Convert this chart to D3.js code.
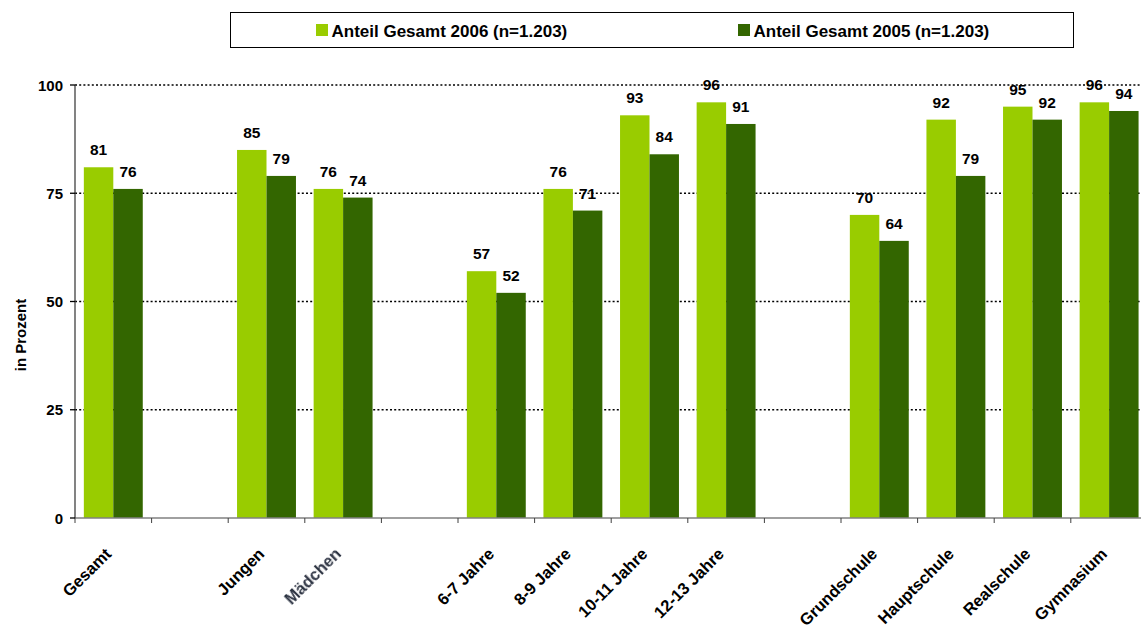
<!DOCTYPE html>
<html>
<head>
<meta charset="utf-8">
<script src="https://cdn.jsdelivr.net/npm/d3@7"></script>
<style>
  html, body { margin: 0; padding: 0; background: #fff; }
  svg { display: block; }
  text { font-family: "Liberation Sans", Arial, sans-serif; font-weight: bold; fill: #000; }
</style>
</head>
<body>
<svg id="chart" width="1141" height="626"></svg>
<script>
// Category groups; an empty slot separates neighbouring groups on the axis.
const groups = [
  ["Gesamt"],
  ["Jungen", "Mädchen"],
  ["6-7 Jahre", "8-9 Jahre", "10-11 Jahre", "12-13 Jahre"],
  ["Grundschule", "Hauptschule", "Realschule", "Gymnasium"]
];
const categories = groups.flat();
const values2006 = [81, 85, 76, 57, 76, 93, 96, 70, 92, 95, 96];
const values2005 = [76, 79, 74, 52, 71, 84, 91, 64, 79, 92, 94];
const seriesNames = ["Anteil Gesamt 2006 (n=1.203)", "Anteil Gesamt 2005 (n=1.203)"];
const yTicks = [0, 25, 50, 75, 100];
const yTitle = "in Prozent";

const colors = ["#99CC00", "#336600"];

const svg = d3.select("#chart");

// Slot list: categories plus gap slots between the groups
const slots = [];
groups.forEach((g, i) => {
  if (i > 0) slots.push("__gap" + i);
  g.forEach(c => slots.push(c));
});

const left = 75, slotW = 76.6;
const x = d3.scaleBand().domain(slots).range([left, left + slotW * slots.length]).padding(0);
const xs = d3.scaleBand().domain([0, 1]).range([0, x.bandwidth()]).paddingInner(0).paddingOuter(0.3);
const y = d3.scaleLinear().domain([0, 100]).range([518, 85]);

const rows = categories.map((c, i) => ({ cat: c, vals: [values2006[i], values2005[i]] }));

// Dotted gridlines
svg.append("g").selectAll("line").data(yTicks.filter(t => t > 0)).join("line")
  .attr("x1", left).attr("x2", 1141)
  .attr("y1", d => y(d)).attr("y2", d => y(d))
  .attr("stroke", "#000").attr("stroke-width", 1.3).attr("stroke-dasharray", "2,2.2");

// Bars
const bars = svg.append("g").selectAll("g").data(rows).join("g")
  .attr("transform", d => `translate(${x(d.cat)},0)`);
bars.selectAll("rect").data(d => d.vals.map((v, k) => ({ v, k }))).join("rect")
  .attr("x", d => xs(d.k)).attr("width", xs.bandwidth())
  .attr("y", d => y(d.v)).attr("height", d => y(0) - y(d.v))
  .attr("fill", d => colors[d.k]);

// Value labels
bars.selectAll("text").data(d => d.vals.map((v, k) => ({ v, k }))).join("text")
  .attr("x", d => xs(d.k) + xs.bandwidth() / 2)
  .attr("y", d => y(d.v) - 12)
  .attr("text-anchor", "middle").attr("font-size", 15.5)
  .text(d => d.v);

// X axis line and ticks at slot boundaries
const xAxis = svg.append("g").attr("transform", `translate(0,${y(0)})`);
xAxis.append("line").attr("x1", left).attr("x2", 1141).attr("y1", 0).attr("y2", 0)
  .attr("stroke", "#808080").attr("stroke-width", 1.3);
xAxis.selectAll("line.tick").data(d3.range(slots.length + 1)).join("line")
  .attr("class", "tick")
  .attr("x1", i => left + i * x.step()).attr("x2", i => left + i * x.step())
  .attr("y1", 0).attr("y2", 5).attr("stroke", "#404040").attr("stroke-width", 1);

// Rotated category labels
const defs = svg.append("defs");
defs.append("filter").attr("id", "soft").append("feGaussianBlur").attr("stdDeviation", 0.7);
svg.append("g").selectAll("text").data(categories).join("text")
  .attr("transform", d => `translate(${x(d) + x.bandwidth() / 2 - 1},${y(0) + 37}) rotate(-45)`)
  .attr("text-anchor", "end").attr("font-size", 16.5)
  .attr("filter", d => d === "Mädchen" ? "url(#soft)" : null)
  .style("fill", d => d === "Mädchen" ? "#2a3040" : null)
  .text(d => d);

// Y axis
const yAxis = svg.append("g");
yAxis.append("line").attr("x1", left).attr("x2", left).attr("y1", y(100)).attr("y2", y(0))
  .attr("stroke", "#404040").attr("stroke-width", 1.3);
yAxis.selectAll("line.tick").data(yTicks).join("line").attr("class", "tick")
  .attr("x1", left - 5).attr("x2", left).attr("y1", d => y(d)).attr("y2", d => y(d))
  .attr("stroke", "#000").attr("stroke-width", 1.3);
yAxis.selectAll("text").data(yTicks).join("text")
  .attr("x", 63).attr("y", d => y(d) + 5.5)
  .attr("text-anchor", "end").attr("font-size", 15)
  .text(d => d);

svg.append("text")
  .attr("transform", "translate(26,335) rotate(-90)")
  .attr("text-anchor", "middle").attr("font-size", 15)
  .text(yTitle);

// Legend
const lg = svg.append("g");
lg.append("rect").attr("x", 230.5).attr("y", 12.5).attr("width", 843).attr("height", 35)
  .attr("fill", "#fff").attr("stroke", "#000").attr("stroke-width", 1);
const legendX = [316, 738];
seriesNames.forEach((name, k) => {
  lg.append("rect").attr("x", legendX[k]).attr("y", 24).attr("width", 12).attr("height", 12)
    .attr("fill", colors[k]);
  lg.append("text").attr("x", legendX[k] + 15.5).attr("y", 37).attr("font-size", 17).text(name);
});
</script>
</body>
</html>
